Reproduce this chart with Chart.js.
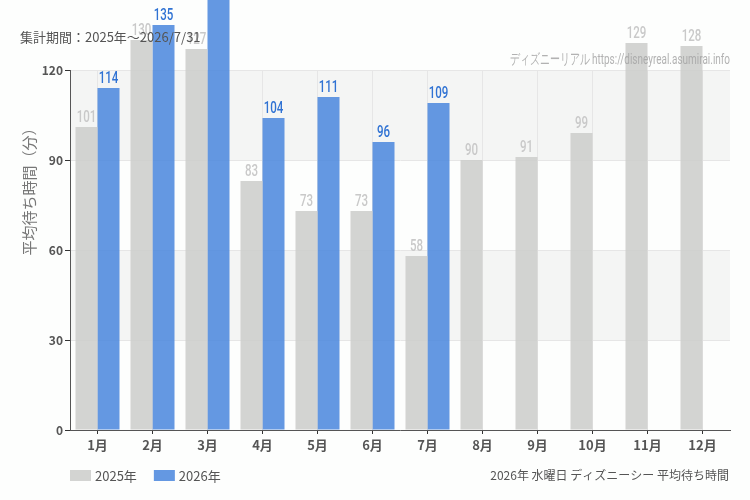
<!DOCTYPE html>
<html>
<head>
<meta charset="utf-8">
<script src="https://cdn.jsdelivr.net/npm/chart.js@4.4.1/dist/chart.umd.min.js"></script>
<style>
  html, body { margin: 0; padding: 0; background: #fdfefd; }
</style>
</head>
<body>
<canvas id="barChart" width="750" height="500"></canvas>
<script>
var months = ['1月', '2月', '3月', '4月', '5月', '6月', '7月', '8月', '9月', '10月', '11月', '12月'];
var wait2025 = [101, 130, 127, 83, 73, 73, 58, 90, 91, 99, 129, 128];
var wait2026 = [114, 135, 150, 104, 111, 96, 109, null, null, null, null, null];
var yTicks = [0, 30, 60, 90, 120];

var titleText = '集計期間：2025年～2026/7/31';
var footerText = '2026年 水曜日 ディズニーシー 平均待ち時間';
var watermarkText = 'ディズニーリアル https://disneyreal.asumirai.info';
var axisTitle = '平均待ち時間（分）';

var jpFont = "'Noto Sans CJK JP', 'Noto Sans', sans-serif";
var narrowFont = "'Roboto', 'Noto Sans', sans-serif";

var labelColors = ['#c9c9c9', '#2f72d3'];

// condensed look: squeeze text horizontally
function narrowText(c, text, x, y, squeeze) {
  c.save();
  c.translate(x, y);
  c.scale(squeeze, 1);
  c.fillText(text, 0, 0);
  c.restore();
}

// light bands behind the plot: 90-120 and 30-60
var bandsPlugin = {
  id: 'bands',
  beforeDraw: function(chart) {
    var c = chart.ctx, a = chart.chartArea, y = chart.scales.y;
    c.save();
    c.fillStyle = '#f4f5f4';
    [[90, 120], [30, 60]].forEach(function(b) {
      var top = y.getPixelForValue(b[1]), bot = y.getPixelForValue(b[0]);
      c.fillRect(a.left, top, a.right - a.left, bot - top);
    });
    c.restore();
  }
};

var textPlugin = {
  id: 'texts',
  afterDatasetsDraw: function(chart) {
    var c = chart.ctx;
    c.save();
    // value labels
    c.font = '500 16px ' + narrowFont;
    c.textAlign = 'center';
    c.textBaseline = 'bottom';
    chart.data.datasets.forEach(function(ds, i) {
      var meta = chart.getDatasetMeta(i);
      meta.data.forEach(function(bar, j) {
        if (ds.data[j] == null) return;
        c.fillStyle = labelColors[i];
        narrowText(c, ds.data[j], bar.x, bar.y - 1, 0.72);
      });
    });
    // watermark
    c.font = '15px ' + narrowFont;
    c.fillStyle = 'rgba(165,165,165,0.85)';
    c.textAlign = 'right';
    c.textBaseline = 'middle';
    narrowText(c, watermarkText, 730, 60, 0.665);
    // title
    c.font = '13px ' + jpFont;
    c.fillStyle = '#555';
    c.textAlign = 'left';
    c.fillText(titleText, 20, 37);
    // footer
    c.font = '12px ' + jpFont;
    c.textAlign = 'right';
    c.fillText(footerText, 729, 475);
    // y axis title
    c.save();
    c.translate(29, 188);
    c.rotate(-Math.PI / 2);
    c.textAlign = 'center';
    c.font = '15px ' + jpFont;
    c.fillStyle = '#777';
    c.fillText(axisTitle, 0, 0);
    c.restore();
    // legend
    var x = 70;
    chart.data.datasets.forEach(function(ds) {
      c.fillStyle = ds.backgroundColor;
      c.fillRect(x, 470, 21, 11);
      c.font = '13px ' + jpFont;
      c.fillStyle = '#555';
      c.textAlign = 'left';
      c.fillText(ds.label, x + 25, 476);
      x += 25 + c.measureText(ds.label).width + 17;
    });
    c.restore();
  }
};

var ctx = document.getElementById('barChart').getContext('2d');
var barChart = new Chart(ctx, {
  type: 'bar',
  data: {
    labels: months,
    datasets: [{
      label: '2025年',
      data: wait2025,
      backgroundColor: 'rgba(203, 204, 202, 0.85)',
      clip: false
    }, {
      label: '2026年',
      data: wait2026,
      backgroundColor: 'rgba(73, 134, 221, 0.85)',
      clip: false
    }]
  },
  options: {
    responsive: false,
    animation: false,
    categoryPercentage: 0.8,
    barPercentage: 1.0,
    layout: {
      padding: { left: 0, right: 20, top: 70, bottom: 40 }
    },
    scales: {
      x: {
        afterFit: function(s) { s.height = 30; },
        grid: {
          offset: false,
          color: '#e6e6e6',
          tickColor: '#333',
          tickLength: 4
        },
        border: { color: '#555', width: 1 },
        ticks: {
          color: '#555',
          padding: 3,
          autoSkip: false,
          maxRotation: 0,
          font: { size: 13, weight: 'bold', family: jpFont }
        }
      },
      y: {
        min: 0,
        max: 120,
        afterFit: function(s) { s.width = 70; },
        afterBuildTicks: function(s) {
          s.ticks = yTicks.map(function(v) { return { value: v }; });
        },
        grid: {
          color: '#e6e6e6',
          tickColor: '#333',
          tickLength: 5
        },
        border: { color: '#555', width: 1 },
        ticks: {
          color: '#555',
          padding: 2,
          font: { size: 12, weight: 'bold', family: jpFont }
        }
      }
    },
    plugins: {
      legend: { display: false },
      tooltip: { enabled: false }
    }
  },
  plugins: [bandsPlugin, textPlugin]
});
</script>
</body>
</html>
